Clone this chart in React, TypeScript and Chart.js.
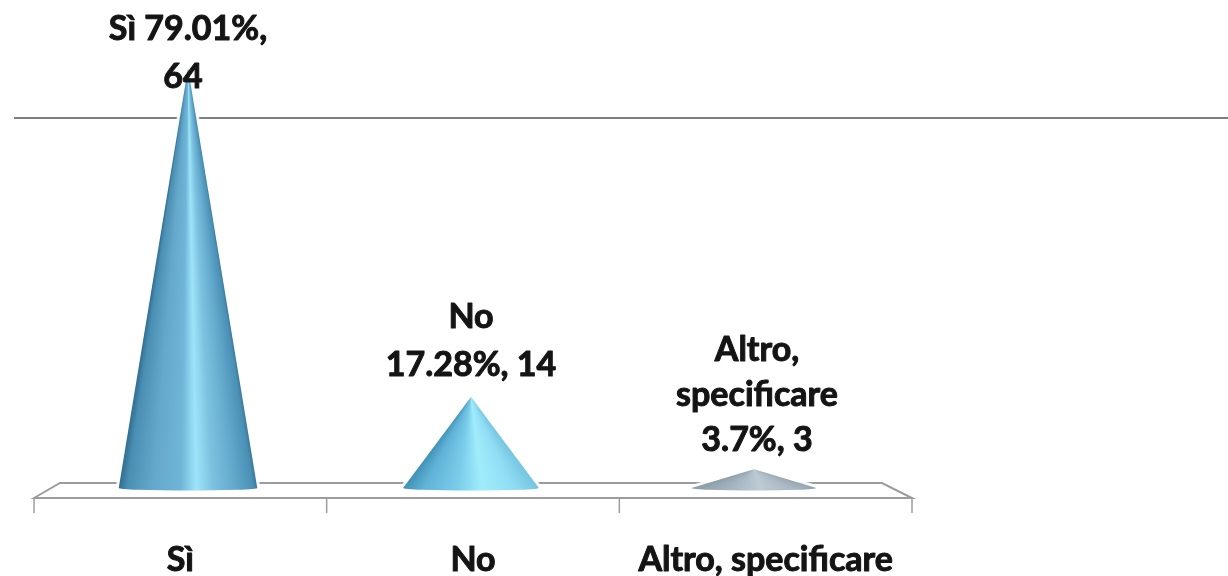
import { useEffect, useRef } from "react";
import { Chart, registerables } from "chart.js";

Chart.register(...registerables);

const categories = ["Sì", "No", "Altro, specificare"];
const counts = [64, 14, 3];
const dataLabels = [["Sì 79.01%,", "64"], ["No", "17.28%, 14"], ["Altro,", "specificare", "3.7%, 3"]];
const gridValues = [56.5];

// style tables (one per category)
const coneStops: [number, string][][] = [
  [[0, "#2f6d90"], [0.06, "#4a8fb3"], [0.25, "#64a8cb"], [0.45, "#6fb6d8"], [0.56, "#9de4f9"], [0.68, "#7cc2e0"], [0.85, "#5fa6ca"], [0.97, "#4a8fb4"], [1, "#38799c"]],
  [[0, "#3f90b5"], [0.15, "#5fb2d6"], [0.4, "#7accea"], [0.58, "#a0ecfc"], [0.8, "#90def4"], [1, "#74c4e0"]],
  [[0, "#8a9aa6"], [0.3, "#a4b4be"], [0.55, "#bccbd4"], [0.8, "#a8b7c1"], [1, "#93a3ae"]],
];
const coneWidthFactor = [1.02, 1.0, 0.92];
const labelX = [0, 0, 3];
const labelLastLineY = [77, -32, -29];
const labelLineHeight = [48, 48, 45];

const FONT = "bold 34px Lato";
const TEXT = "#141414";

function drawText(ctx: CanvasRenderingContext2D, s: string, x: number, y: number) {
  ctx.save();
  ctx.filter = "blur(0.5px)";
  ctx.font = FONT;
  ctx.fillStyle = TEXT;
  ctx.strokeStyle = TEXT;
  ctx.lineWidth = 1;
  ctx.lineJoin = "round";
  ctx.textAlign = "center";
  ctx.textBaseline = "middle";
  ctx.strokeText(s, x, y);
  ctx.fillText(s, x, y);
  ctx.restore();
}

const conePlugin = {
  id: "cones3d",
  beforeDatasetsDraw(chart: any) {
    const { ctx, scales } = chart;
    const xs = scales.x, ys = scales.y;
    const step = xs.getPixelForValue(1) - xs.getPixelForValue(0);
    const leftEdge = xs.getPixelForValue(0) - step / 2;
    const rightEdge = xs.getPixelForValue(categories.length - 1) + step / 2;
    const front = (x: number) => 34 + ((x - leftEdge) * 878) / (rightEdge - leftEdge);
    ctx.save();
    ctx.lineWidth = 2;
    ctx.strokeStyle = "#7f7f7f";
    gridValues.forEach((v) => {
      const y = Math.round(ys.getPixelForValue(v));
      ctx.beginPath();
      ctx.moveTo(14, y);
      ctx.lineTo(1228, y);
      ctx.stroke();
    });
    ctx.strokeStyle = "#9c9c9c";
    ctx.lineJoin = "miter";
    ctx.beginPath();
    ctx.moveTo(34, 498);
    ctx.lineTo(60, 483);
    ctx.lineTo(882, 483);
    ctx.lineTo(912, 498);
    ctx.closePath();
    ctx.stroke();
    ctx.lineWidth = 1.5;
    ctx.strokeStyle = "#9c9c9c";
    for (let i = 0; i <= categories.length; i++) {
      const x = front(leftEdge + i * step);
      ctx.beginPath();
      ctx.moveTo(x, 498);
      ctx.lineTo(x, 513);
      ctx.stroke();
    }
    categories.forEach((c, i) => drawText(ctx, c, front(xs.getPixelForValue(i)), 560));
    ctx.restore();
  },
  afterDatasetsDraw(chart: any) {
    const { ctx } = chart;
    const meta = chart.getDatasetMeta(0);
    meta.data.forEach((bar: any, i: number) => {
      const half = (bar.width * coneWidthFactor[i]) / 2;
      const cx = bar.x, tip = bar.y, base = bar.base;
      const baseY = base - 1;
      const ry = 2.5;
      ctx.save();
      // soft white halo cut out of the grid lines
      ctx.strokeStyle = "rgba(255,255,255,0.9)";
      ctx.lineWidth = 6;
      ctx.beginPath();
      ctx.moveTo(cx, tip);
      ctx.lineTo(cx - half, baseY);
      ctx.moveTo(cx, tip);
      ctx.lineTo(cx + half, baseY);
      ctx.stroke();
      // cone body: one gradient per pixel row so the shading converges on the tip
      ctx.beginPath();
      ctx.moveTo(cx, tip);
      ctx.lineTo(cx - half, baseY);
      ctx.ellipse(cx, baseY, half, ry, 0, Math.PI, 0, true);
      ctx.closePath();
      ctx.clip();
      const height = baseY - tip;
      for (let y = Math.floor(tip); y < baseY + ry + 1; y++) {
        const h = Math.max(0.5, (half * Math.min(height, y + 1 - tip)) / height);
        const g = ctx.createLinearGradient(cx - h, 0, cx + h, 0);
        coneStops[i].forEach(([p, c]) => g.addColorStop(p, c));
        ctx.fillStyle = g;
        ctx.fillRect(cx - h - 1, y, 2 * h + 2, 1);
      }
      ctx.restore();
      const lines = dataLabels[i];
      const anchor = i === 0 ? labelLastLineY[i] : tip + labelLastLineY[i];
      lines.forEach((l, n) => {
        const y = anchor - (lines.length - 1 - n) * labelLineHeight[i];
        drawText(ctx, l, cx + labelX[i] - (i === 0 && n === 1 ? 5 : 0), y);
      });
    });
  },
};

export default function App() {
  const ref = useRef<HTMLCanvasElement>(null);
  useEffect(() => {
    document.body.style.margin = "0";
    document.body.style.background = "#fff";
    const chart = new Chart(ref.current!, {
      type: "bar",
      data: {
        labels: categories,
        datasets: [
          {
            data: counts,
            backgroundColor: "rgba(0,0,0,0)",
            borderWidth: 0,
            categoryPercentage: 1,
            barPercentage: 0.48,
          },
        ],
      },
      options: {
        animation: false,
        responsive: false,
        layout: { padding: { left: 46.5, right: 332.5, top: 29, bottom: 87 } },
        plugins: { legend: { display: false }, tooltip: { enabled: false }, title: { display: false } },
        scales: {
          x: { display: false },
          y: { display: false, min: 0, max: 70 },
        },
      },
      plugins: [conePlugin],
    } as any);
    return () => chart.destroy();
  }, []);
  return <canvas ref={ref} width={1228} height={576} style={{ display: "block" }} />;
}
